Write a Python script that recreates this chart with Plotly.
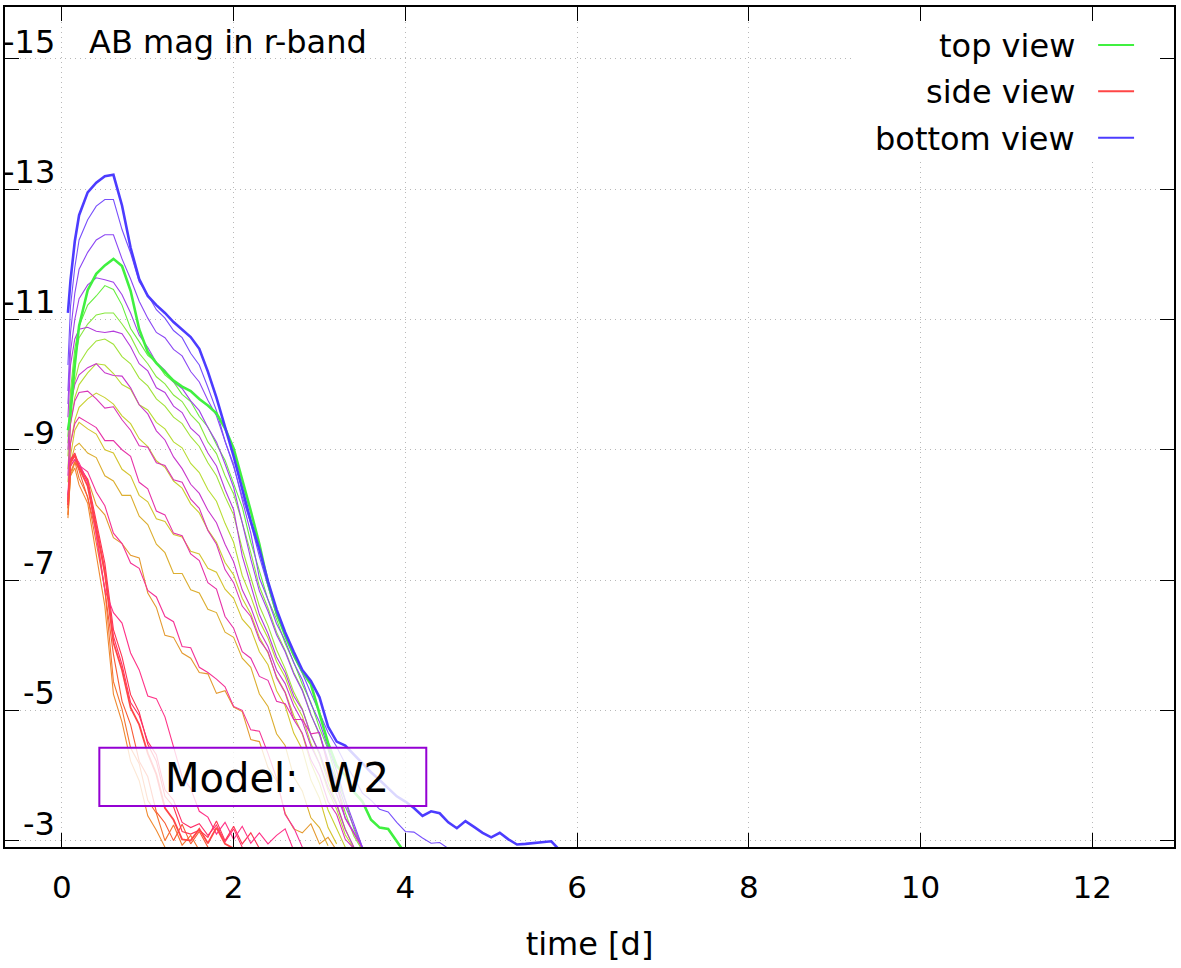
import plotly.graph_objects as go

# time grid [d] shared by all light curves
t_days = [0.07, 0.1, 0.15, 0.2, 0.3, 0.4, 0.5, 0.6, 0.7, 0.8, 0.9, 1.0, 1.1, 1.2, 1.3, 1.4,
          1.5, 1.6, 1.7, 1.8, 1.9, 2.0, 2.1, 2.2, 2.3, 2.4, 2.5, 2.6, 2.7, 2.8, 2.9, 3.0,
          3.1, 3.2, 3.3, 3.4, 3.5, 3.6, 3.7, 3.8, 3.9, 4.0, 4.1, 4.2, 4.3, 4.4, 4.5, 4.6,
          4.7, 4.8, 4.9, 5.0, 5.1, 5.2, 5.3, 5.4, 5.5, 5.6, 5.7, 5.8]

# AB magnitudes; a list stops where the curve leaves the plot
mag_top = [-9.3, -9.55, -10.3, -10.9, -11.45, -11.7, -11.83, -11.93, -11.82, -11.44, -10.85,
           -10.5, -10.33, -10.2, -10.06, -9.97, -9.9, -9.78, -9.68, -9.56, -9.33,
           -9.02, -8.56, -8.06, -7.55, -6.95, -6.5, -6.15, -5.85, -5.6, -5.4, -4.95,
           -4.5, -4.15, -4.0, -3.75, -3.6, -3.32, -3.2, -3.18, -3.0, -2.8]
mag_side = [-8.15, -8.8, -8.92, -8.72, -8.44, -7.8, -7.1, -6.04, -5.62, -5.04, -4.78, -4.34,
            -4.02, -3.5, -3.32, -3.02, -3.0, -3.18, -2.96, -3.2, -2.95, -2.88]
mag_bottom = [-11.1, -11.6, -12.2, -12.6, -12.95, -13.1, -13.2, -13.22, -12.75, -12.1, -11.62,
              -11.36, -11.22, -11.1, -10.96, -10.85, -10.73, -10.55, -10.2, -9.8, -9.35,
              -8.9, -8.4, -7.9, -7.47, -6.98, -6.55, -6.2, -5.9, -5.62, -5.45, -5.2,
              -4.75, -4.52, -4.46, -4.32, -4.18, -4.05, -3.93, -3.8, -3.68, -3.6,
              -3.5, -3.38, -3.45, -3.42, -3.28, -3.19, -3.3, -3.21, -3.12, -3.05,
              -3.12, -3.02, -2.94, -2.95, -2.96, -2.97, -2.99, -2.85]

# intermediate viewing angles, top -> side
mag_u1 = [-9.2, -9.9, -10.55, -10.9, -11.22, -11.36, -11.52, -11.46, -11.22, -10.86, -10.66,
          -10.45, -10.34, -10.15, -10.04, -9.85, -9.74, -9.51, -9.35, -9.08, -8.84,
          -8.48, -8.12, -7.58, -7.14, -6.7, -6.4, -6.03, -5.74, -5.4, -5.12, -4.73,
          -4.4, -3.96, -3.62, -3.18, -2.88]
mag_u2 = [-9.1, -9.8, -10.4, -10.72, -10.93, -11.07, -11.1, -11.1, -10.93, -10.74, -10.48,
          -10.32, -10.12, -10.01, -9.84, -9.74, -9.54, -9.4, -9.12, -8.94, -8.6,
          -8.32, -7.88, -7.42, -6.9, -6.57, -6.2, -5.92, -5.58, -5.32, -4.94, -4.62,
          -4.2, -3.87, -3.43, -3.07, -2.85]
mag_u3 = [-8.9, -9.6, -10.05, -10.32, -10.53, -10.67, -10.7, -10.62, -10.43, -10.32, -10.1,
          -9.98, -9.78, -9.67, -9.5, -9.4, -9.2, -9.05, -8.8, -8.6, -8.28,
          -8.0, -7.48, -7.04, -6.6, -6.3, -5.93, -5.64, -5.28, -5.02, -4.63, -4.32,
          -3.9, -3.57, -3.18, -2.9]
mag_u4 = [-8.7, -9.4, -9.8, -10.0, -10.18, -10.32, -10.3, -10.17, -10.0, -9.93, -9.69,
          -9.61, -9.42, -9.32, -9.12, -9.03, -8.79, -8.65, -8.39, -8.21, -7.87,
          -7.58, -7.07, -6.75, -6.37, -6.11, -5.75, -5.51, -5.15, -4.91, -4.49, -4.18,
          -3.77, -3.48, -3.09, -2.88]
mag_u5 = [-8.5, -9.1, -9.45, -9.65, -9.78, -9.87, -9.8, -9.7, -9.52, -9.4, -9.17,
          -9.05, -8.83, -8.73, -8.52, -8.41, -8.17, -8.03, -7.77, -7.58, -7.27,
          -7.08, -6.72, -6.48, -6.12, -5.88, -5.52, -5.28, -4.92, -4.63, -4.19, -3.88,
          -3.47, -3.18, -2.9]
mag_u6 = [-8.2, -8.9, -9.3, -9.42, -9.32, -9.24, -9.0, -8.95, -8.7, -8.6, -8.3,
          -8.2, -7.94, -7.9, -7.7, -7.66, -7.44, -7.4, -7.18, -7.12, -6.86,
          -6.72, -6.4, -6.25, -5.9, -5.7, -5.3, -5.07, -4.65, -4.4, -3.93, -3.65,
          -3.2, -2.95]
mag_u7 = [-8.1, -8.8, -9.05, -9.1, -8.95, -8.88, -8.6, -8.52, -8.3, -8.3, -7.98,
          -7.85, -7.55, -7.42, -7.1, -7.1, -6.85, -6.8, -6.55, -6.5, -6.2,
          -6.12, -5.8, -5.66, -5.25, -5.06, -4.64, -4.46, -3.98, -3.76, -3.35, -3.2,
          -2.92]
mag_u8 = [-8.0, -8.6, -8.8, -8.72, -8.55, -8.15, -8.0, -7.65, -7.56, -7.38, -7.34,
          -6.8, -6.58, -6.15, -6.12, -5.88, -5.8, -5.58, -5.56, -5.26, -5.3,
          -5.05, -4.98, -4.55, -4.52, -4.12, -3.92, -3.42, -3.18, -3.12, -3.26, -2.95,
          -3.05, -2.85]
mag_u9 = [-7.95, -8.6, -8.72, -8.46, -8.18, -7.4, -6.6, -5.25, -4.82, -4.22, -3.92, -3.38,
          -3.16, -2.9]
mag_u10 = [-8.0, -8.65, -8.82, -8.56, -8.28, -7.55, -6.86, -5.44, -5.02, -4.42, -4.18,
           -3.62, -3.42, -3.0, -3.24, -2.93, -3.08, -2.85]
mag_u11 = [-8.1, -8.75, -8.85, -8.68, -8.26, -7.74, -6.84, -5.86, -5.14, -4.78, -4.22,
           -3.98, -3.44, -3.27, -3.0, -3.25, -2.95, -3.14, -2.9]

# intermediate viewing angles, side -> bottom
mag_l11 = [-8.2, -8.85, -8.95, -8.76, -8.54, -7.9, -7.26, -6.24, -5.82, -5.24, -4.97,
           -4.48, -4.22, -3.68, -3.52, -3.14, -3.1, -3.16, -3.05, -3.3, -3.0, -3.22,
           -2.95, -3.12, -2.88]
mag_l10 = [-8.25, -8.85, -8.92, -8.74, -8.5, -7.84, -7.16, -6.14, -5.7, -5.12, -4.92,
           -4.52, -4.32, -3.78, -3.62, -3.28, -3.2, -3.26, -3.08, -3.24, -2.98, -3.18,
           -2.9]
mag_l9 = [-8.3, -8.8, -8.9, -8.8, -8.5, -7.7, -6.85, -6.5, -6.34, -5.88, -5.62, -5.22,
          -5.18, -4.9, -4.46, -3.98, -3.8, -3.45, -3.36, -3.1, -3.28, -3.02, -3.22,
          -2.96, -3.12, -2.95, -3.08, -3.18, -2.85]
mag_l8 = [-8.2, -8.75, -8.85, -8.76, -8.66, -8.35, -8.14, -7.72, -7.56, -7.26, -7.18,
          -6.84, -6.74, -6.44, -6.36, -5.98, -5.96, -5.66, -5.58, -5.48, -5.36,
          -5.06, -5.0, -4.7, -4.68, -4.34, -3.96, -3.4, -3.2, -2.9]
mag_l7 = [-8.3, -9.1, -9.4, -9.5, -9.42, -9.34, -9.14, -9.14, -9.0, -8.9, -8.5,
          -8.4, -8.06, -8.0, -7.72, -7.68, -7.4, -7.3, -6.96, -6.86, -6.44,
          -6.26, -5.9, -5.8, -5.52, -5.46, -5.14, -5.1, -4.86, -4.86, -4.64, -4.66,
          -4.14, -3.86, -3.34, -3.1, -2.88]
mag_l6 = [-8.6, -9.4, -9.75, -9.88, -9.9, -9.78, -9.64, -9.66, -9.46, -9.3, -9.06,
          -9.04, -8.8, -8.76, -8.54, -8.5, -8.24, -8.1, -7.76, -7.55, -7.16,
          -6.96, -6.6, -6.44, -6.08, -5.9, -5.5, -5.27, -4.86, -4.65, -4.24, -4.0,
          -3.6, -3.4, -3.02, -2.88]
mag_l5 = [-9.0, -9.7, -10.0, -10.15, -10.26, -10.32, -10.18, -10.14, -10.13, -9.95, -9.69,
          -9.55, -9.29, -9.15, -8.89, -8.71, -8.47, -8.33, -8.07, -7.88, -7.55,
          -7.28, -6.85, -6.58, -6.22, -5.98, -5.62, -5.41, -5.07, -4.83, -4.45, -4.18,
          -3.82, -3.55, -3.17, -2.9]
mag_l4 = [-9.5, -10.3, -10.7, -10.85, -10.88, -10.82, -10.8, -10.82, -10.78, -10.58, -10.32,
          -10.21, -9.95, -9.88, -9.67, -9.57, -9.33, -9.21, -8.95, -8.75, -8.39,
          -8.08, -7.37, -6.91, -6.47, -6.18, -5.82, -5.58, -5.22, -5.01, -4.62, -4.35,
          -3.97, -3.71, -3.35, -3.13, -2.9]
mag_l3 = [-9.7, -10.5, -11.0, -11.32, -11.53, -11.64, -11.61, -11.57, -11.38, -11.1, -10.76,
          -10.57, -10.34, -10.22, -10.04, -9.94, -9.75, -9.6, -9.34, -9.12, -8.78,
          -8.42, -7.88, -7.32, -6.83, -6.52, -6.16, -5.9, -5.56, -5.3, -4.93, -4.64,
          -4.23, -3.92, -3.53, -3.22, -2.9]
mag_l2 = [-9.9, -10.8, -11.4, -11.77, -12.03, -12.22, -12.3, -12.3, -11.93, -11.62, -11.28,
          -11.02, -10.8, -10.72, -10.54, -10.44, -10.2, -10.04, -9.76, -9.52, -9.13,
          -8.77, -8.23, -7.72, -7.03, -6.7, -6.33, -6.07, -5.73, -5.47, -5.1, -4.82,
          -4.43, -4.07, -3.63, -3.27, -2.9]
mag_l1 = [-10.3, -11.2, -11.8, -12.22, -12.53, -12.74, -12.84, -12.84, -12.38, -12.02, -11.58,
          -11.38, -11.15, -11.02, -10.83, -10.72, -10.48, -10.3, -9.96, -9.6, -9.13,
          -8.74, -8.28, -7.87, -7.36, -6.9, -6.46, -6.17, -5.83, -5.57, -5.26, -4.97,
          -4.66, -4.44, -4.18, -3.97, -3.73, -3.62, -3.48, -3.44, -3.28, -3.14,
          -3.13, -3.04, -2.96, -2.97, -2.88]

thin_curves = [
    (mag_u1, "#66ee40"), (mag_u2, "#88e840"), (mag_u3, "#a2e23a"), (mag_u4, "#b8dc34"),
    (mag_u5, "#c8d030"), (mag_u6, "#d4c430"), (mag_u7, "#dcae30"), (mag_u8, "#e49a30"),
    (mag_u9, "#f08a30"), (mag_u10, "#f47430"), (mag_u11, "#f85a34"),
    (mag_l11, "#ff3450"), (mag_l10, "#ff3068"), (mag_l9, "#ff3388"), (mag_l8, "#f43396"),
    (mag_l7, "#e633a8"), (mag_l6, "#d836b8"), (mag_l5, "#c838cc"), (mag_l4, "#b43cdc"),
    (mag_l3, "#a042ea"), (mag_l2, "#8c48f4"), (mag_l1, "#7850fc"),
]
main_curves = [
    ("side view", mag_side, "#ff4646", 1.8),
    ("top view", mag_top, "#40f040", 2.6),
    ("bottom view", mag_bottom, "#4c3cff", 2.6),
]
legend_order = ["top view", "side view", "bottom view"]

x_ticks = [0, 2, 4, 6, 8, 10, 12]
y_ticks = [-15, -13, -11, -9, -7, -5, -3]

W, H = 1181, 968
L, R, T, B = 5, 5, 5, 121
pw, ph = W - L - R, H - T - B


def px(x):  # pixel -> paper x
    return (x - L) / pw


def py(y):  # pixel -> paper y
    return 1 - (y - T) / ph


fig = go.Figure()

for mags, col in thin_curves:
    fig.add_trace(go.Scatter(x=t_days[:len(mags)], y=mags, mode="lines",
                             line=dict(color=col, width=1.1), hoverinfo="skip"))

for name, mags, col, w in main_curves:
    fig.add_trace(go.Scatter(x=t_days[:len(mags)], y=mags, mode="lines", name=name,
                             line=dict(color=col, width=w)))

axis_common = dict(
    ticks="inside", ticklen=14, tickwidth=1.3, tickcolor="black",
    showline=True, linecolor="black", linewidth=1.5, mirror="ticks",
    showgrid=True, gridcolor="#b8b8b8", gridwidth=1, griddash="1px,4px",
    zeroline=False,
)

fig.update_layout(
    width=W, height=H,
    margin=dict(l=L, r=R, t=T, b=B),
    plot_bgcolor="white", paper_bgcolor="white",
    showlegend=False,
    font=dict(family="DejaVu Sans", size=32, color="black"),
    xaxis=dict(range=[-0.663, 12.953], tickvals=x_ticks, tickfont=dict(size=31),
               ticklabelstandoff=12,
               title=dict(text="time [d]", font=dict(size=32), standoff=29),
               **axis_common),
    yaxis=dict(range=[-2.902, -15.796], tickvals=y_ticks, showticklabels=False,
               **axis_common),
)

# y tick labels sit just above their tick, inside the frame
for v in y_ticks:
    fig.add_annotation(x=px(57), xref="paper", y=v, yref="y", text=str(v),
                       showarrow=False, xanchor="right", yanchor="middle", yshift=17,
                       font=dict(size=32))

fig.add_annotation(x=px(87), y=py(40), xref="paper", yref="paper", text="AB mag in r-band",
                   showarrow=False, xanchor="left", yanchor="middle", font=dict(size=32))

# key box: text on the left, line sample on the right
fig.add_shape(type="rect", xref="paper", yref="paper", x0=px(855), x1=px(1160),
              y0=py(160), y1=py(20), fillcolor="white", line=dict(width=0), layer="above")
colors = {name: col for name, _, col, _ in main_curves}
for i, name in enumerate(legend_order):
    yy = 44 + 46.5 * i
    fig.add_annotation(x=px(1079), y=py(yy), xref="paper", yref="paper", text=name,
                       showarrow=False, xanchor="right", yanchor="middle",
                       font=dict(size=32))
    fig.add_shape(type="line", xref="paper", yref="paper", x0=px(1100), x1=px(1136),
                  y0=py(yy - 1), y1=py(yy - 1), line=dict(color=colors[name], width=2),
                  layer="above")

# model label box
fig.add_shape(type="rect", xref="paper", yref="paper", x0=px(99.5), x1=px(427),
              y0=py(806), y1=py(747.5), fillcolor="rgba(255,255,255,0.8)",
              line=dict(color="#9400d3", width=2), layer="above")
fig.add_annotation(x=px(277), y=py(778), xref="paper", yref="paper",
                   text="Model:\u00a0\u00a0W2", showarrow=False, xanchor="center",
                   yanchor="middle", font=dict(size=40))

fig.write_html("out.html", config={"displayModeBar": False},
               post_script="document.body.style.margin='0';")
